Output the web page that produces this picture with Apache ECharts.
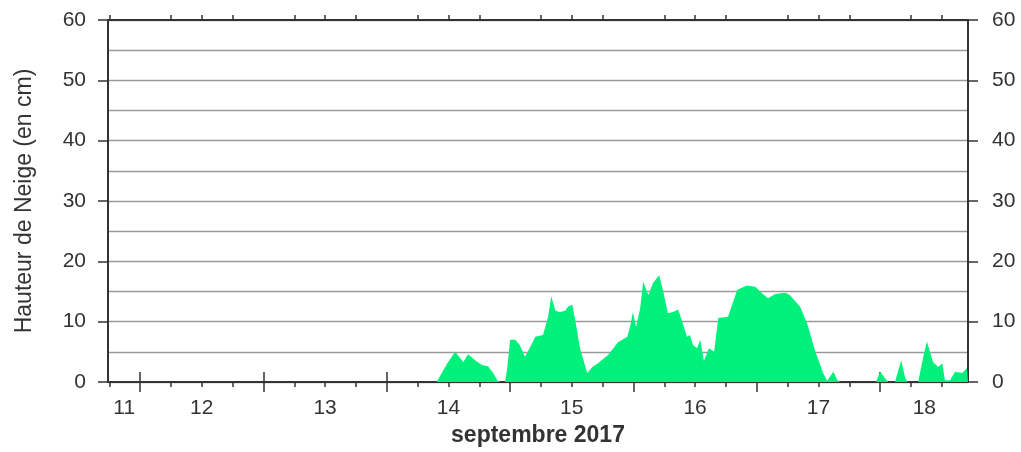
<!DOCTYPE html>
<html>
<head>
<meta charset="utf-8">
<script src="https://cdn.jsdelivr.net/npm/echarts@6/dist/echarts.min.js"></script>
<style>
html,body{margin:0;padding:0;background:#fff;}
#chart{width:1021px;height:452px;}
</style>
</head>
<body>
<div id="chart"></div>
<script>
// hours since 11 Sept 2017 00:00
const hours = [17.75, 81.7, 83.7, 85.3, 86.9, 87.8, 89.2, 90.5, 91.7, 92.7, 93.5, 94.1, 95.0, 95.4, 96.0, 97.0, 97.9, 98.9, 99.9, 100.9, 102.4, 103.4, 104.0, 104.8, 105.7, 106.7, 107.3, 108.1, 108.6, 109.6, 111.0, 112.0, 113.1, 115.1, 117.0, 118.8, 119.4, 119.9, 120.5, 121.3, 121.9, 122.9, 123.8, 125.0, 125.8, 126.7, 127.7, 128.7, 129.5, 130.4, 131.0, 131.6, 132.4, 133.0, 133.7, 134.7, 135.7, 136.5, 138.4, 139.4, 140.2, 142.1, 143.7, 145.0, 146.2, 147.6, 149.5, 150.3, 152.4, 153.8, 155.3, 156.9, 157.7, 158.9, 159.6, 160.2, 167.2, 168.0, 169.0, 169.6, 170.9, 172.1, 172.9, 173.4, 175.4, 176.4, 177.1, 178.3, 179.3, 180.1, 180.6, 181.6, 182.6, 184.0, 184.9, 185.1];
const snow = [0, 0, 3, 5.0, 3.3, 4.6, 3.6, 2.8, 2.6, 1.5, 0.3, 0, 0, 2, 7.0, 7.0, 6.1, 4.2, 5.8, 7.5, 7.8, 10.8, 14.2, 11.8, 11.6, 11.8, 12.5, 12.8, 10.6, 5.6, 1.5, 2.5, 3.1, 4.5, 6.6, 7.5, 9.4, 11.6, 9.1, 12.2, 16.6, 14.4, 16.4, 17.7, 15, 11.4, 11.6, 12, 10, 7.5, 7.8, 6.1, 5.6, 7, 3.5, 5.6, 5, 10.6, 10.8, 13.3, 15.3, 16.0, 15.8, 14.7, 13.9, 14.6, 14.8, 14.5, 12.5, 9.7, 5.3, 1.5, 0.2, 1.7, 0.4, 0, 0, 1.7, 0.6, 0, 0, 3.6, 0.6, 0, 0, 4.2, 6.7, 3.3, 2.5, 3.1, 0.3, 0.3, 1.7, 1.5, 2.3, 2.5];
const dayLabels = ['11', '12', '13', '14', '15', '16', '17', '18'];
const dayLabelPos = [20.9, 36, 60, 84, 108, 132, 156, 176.6];
const majorTicks = [24, 48, 72, 96, 120, 144, 168];
const minorTicks = [18, 30, 36, 42, 54, 60, 66, 78, 84, 90, 102, 108, 114, 126, 132, 138, 150, 156, 162, 174, 180];
const yTicks = [0, 10, 20, 30, 40, 50, 60];
const xMin = 17.75, xMax = 185.1;

const FONT = '"Liberation Sans", Arial, sans-serif';
const axisColor = '#333';
const textColor = '#333';

function xAxisBase(pos) {
  return {
    type: 'value', position: pos, min: xMin, max: xMax,
    axisLine: { show: true, lineStyle: { color: axisColor, width: 2 } },
    splitLine: { show: false },
    axisLabel: { show: false },
    axisTick: { show: true, inside: false, length: 10, lineStyle: { color: axisColor, width: 1.5 }, customValues: majorTicks }
  };
}

const chart = echarts.init(document.getElementById('chart'), null, { renderer: 'canvas' });
const x0 = xAxisBase('bottom');
x0.axisLabel = {
  show: true, customValues: dayLabelPos, margin: 16,
  color: textColor, fontFamily: FONT, fontSize: 21,
  formatter: v => dayLabels[Math.floor(v / 24)]
};
x0.name = 'septembre 2017';
x0.nameLocation = 'middle';
x0.nameGap = 40;
x0.nameTextStyle = { color: textColor, fontFamily: FONT, fontSize: 23, fontWeight: 'bold' };
const x1 = xAxisBase('bottom');
x1.axisTick.customValues = minorTicks; x1.axisTick.length = 5;
const x2 = xAxisBase('top');
const x3 = xAxisBase('top');
x3.axisTick.customValues = minorTicks; x3.axisTick.length = 5;

function yAxisBase(pos) {
  return {
    type: 'value', position: pos, min: 0, max: 60, interval: 10,
    axisLine: { show: true, lineStyle: { color: axisColor, width: 2 } },
    axisTick: { show: true, length: 10, customValues: yTicks, lineStyle: { color: axisColor, width: 1.5 } },
    axisLabel: { show: true, customValues: yTicks, color: textColor, fontFamily: FONT, fontSize: 21, margin: 22 },
    splitLine: { show: false }
  };
}
const y0 = yAxisBase('left');
y0.name = 'Hauteur de Neige (en cm)';
y0.nameLocation = 'middle';
y0.nameGap = 72;
y0.nameTextStyle = { color: textColor, fontFamily: FONT, fontSize: 23 };
const y1 = yAxisBase('right');
y1.axisLabel.margin = 24;
const yGrid = {
  type: 'value', position: 'left', min: 0, max: 60, interval: 5,
  axisLine: { show: false }, axisTick: { show: false }, axisLabel: { show: false },
  splitLine: { show: true, lineStyle: { color: '#9a9a9a', width: 1.3 } }
};

chart.setOption({
  animation: false,
  backgroundColor: '#fff',
  grid: { left: 108, right: 53, top: 20, bottom: 70, containLabel: false },
  xAxis: [x0, x1, x2, x3],
  yAxis: [y0, y1, yGrid],
  series: [{
    type: 'line', xAxisIndex: 0, yAxisIndex: 0,
    data: hours.map((h, i) => [h, snow[i]]),
    showSymbol: false, symbol: 'none',
    lineStyle: { width: 0 },
    areaStyle: { color: '#00f07c', opacity: 1 },
    z: 5
  }]
});
</script>
</body>
</html>
